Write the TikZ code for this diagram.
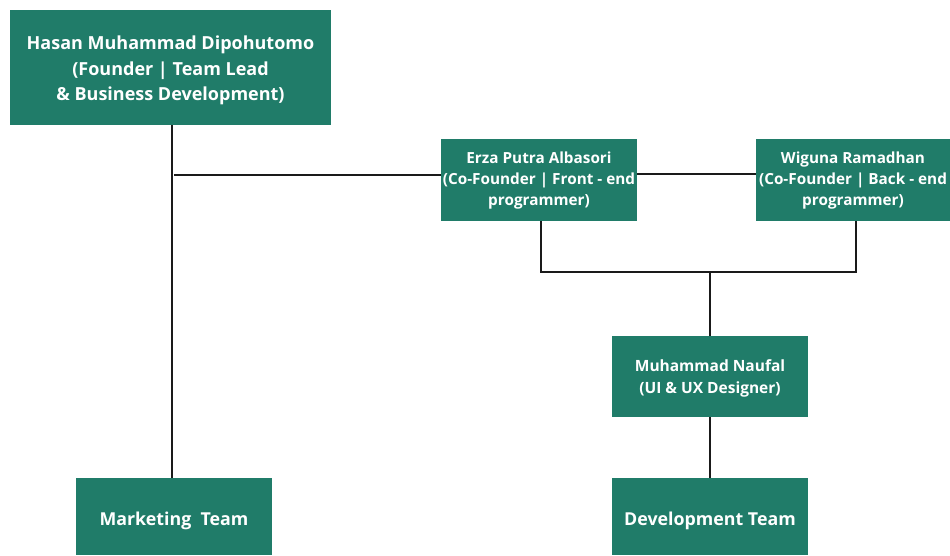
\documentclass[tikz,border=0pt]{standalone}
\usepackage{fontspec}
\setmainfont{Open Sans}
\definecolor{boxgreen}{HTML}{207C69}
\definecolor{linec}{HTML}{1A1A1A}
\newcommand\boxtext[2]{\raisebox{-#1}[\height][\depth]{\begin{tabular}{@{}c@{}}#2\end{tabular}}}
\begin{document}
\begin{tikzpicture}[x=1pt,y=-1pt,
  box/.style={fill=boxgreen,draw=none,text=white,inner sep=0pt,align=center,font=\bfseries},
  conn/.style={draw=linec,line width=2pt}]
\useasboundingbox (0,0) rectangle (950,555);
\node[box,minimum width=321pt,minimum height=115pt,font=\bfseries\fontsize{18}{25.5}\selectfont] (hasan) at (170.5,67.5)
  {\boxtext{2.5pt}{Hasan Muhammad Dipohutomo\\(Founder | Team Lead\\\& Business Development)}};
\node[box,minimum width=196pt,minimum height=82pt,font=\bfseries\fontsize{15.3}{21}\selectfont] (erza) at (539,180)
  {\boxtext{0pt}{Erza Putra Albasori\\(Co-Founder | Front - end\\programmer)}};
\node[box,minimum width=194pt,minimum height=82pt,font=\bfseries\fontsize{15.3}{21}\selectfont] (wig) at (853,180)
  {\boxtext{0pt}{Wiguna Ramadhan\\(Co-Founder | Back - end\\programmer)}};
\node[box,minimum width=196pt,minimum height=81pt,font=\bfseries\fontsize{15.5}{22}\selectfont] (nau) at (710,376.5)
  {\boxtext{2pt}{Muhammad Naufal\\(UI \& UX Designer)}};
\node[box,minimum width=196pt,minimum height=77pt,font=\bfseries\fontsize{17.8}{22}\selectfont] (mkt) at (174,516.5)
  {\boxtext{4.5pt}{Marketing\ \ Team}};
\node[box,minimum width=196pt,minimum height=77pt,font=\bfseries\fontsize{17.8}{22}\selectfont] (dev) at (710,516.5)
  {\boxtext{4.5pt}{Development Team}};
\coordinate (j1) at (174,175);
\coordinate (bus) at (710,272);
\draw[conn] ([xshift=1.5pt]hasan.south) -- ([xshift=-2pt]mkt.north);
\draw[conn] (j1) -- (j1 -| erza.west);
\draw[conn] ([yshift=6pt]erza.east) -- ([yshift=6pt]wig.west);
\draw[conn] ([xshift=2pt]erza.south) |- (bus) -| ([xshift=3pt]wig.south);
\draw[conn] (bus) -- (nau.north);
\draw[conn] (nau) -- (dev);
\end{tikzpicture}
\end{document}
